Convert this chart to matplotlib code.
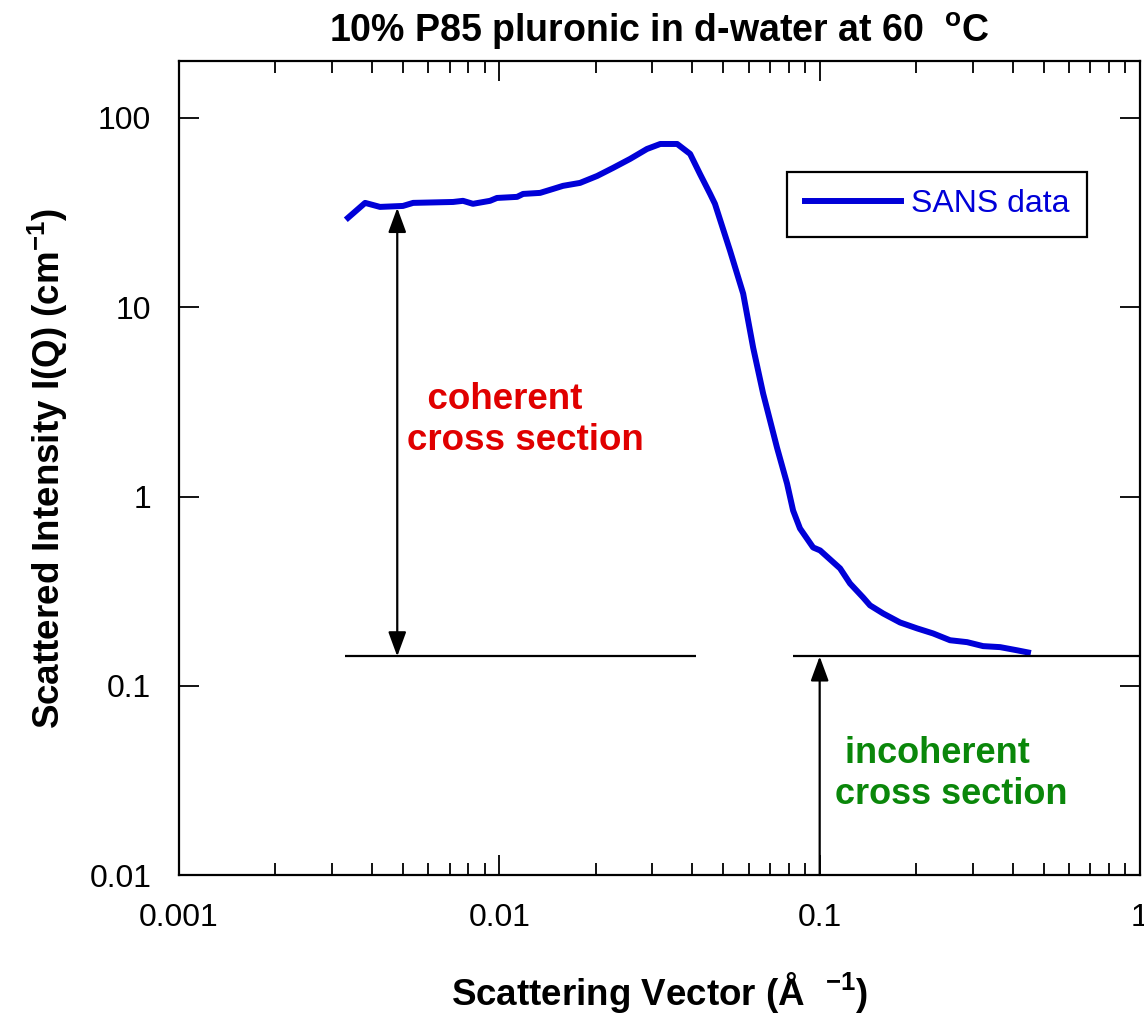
import numpy as np
import matplotlib.pyplot as plt
from matplotlib.ticker import LogLocator, FixedLocator, NullLocator

plt.rcParams['font.family'] = ['Liberation Sans', 'DejaVu Sans']
plt.rcParams['mathtext.fontset'] = 'custom'
plt.rcParams['mathtext.rm'] = 'Liberation Sans'
plt.rcParams['mathtext.bf'] = 'Liberation Sans:bold'

# SANS data
q = [0.00337, 0.00381, 0.00424, 0.00500, 0.00538, 0.00717, 0.00770, 0.00827,
     0.00935, 0.00983, 0.01136, 0.01186, 0.0134, 0.01472, 0.0158, 0.01786,
     0.0202, 0.02265, 0.0256, 0.0289, 0.0318, 0.0359, 0.0394, 0.0423, 0.0455,
     0.0471, 0.0525, 0.0577, 0.0620, 0.0666, 0.0736, 0.0791, 0.0826, 0.0868,
     0.0954, 0.1003, 0.1158, 0.1244, 0.1366, 0.1436, 0.1578, 0.1782, 0.2014,
     0.226, 0.2553, 0.2886, 0.3237, 0.366, 0.413, 0.447]
iq = [29.7, 35.6, 33.9, 34.3, 35.6, 36.0, 36.5, 35.2,
      36.5, 37.8, 38.3, 39.7, 40.2, 42.2, 43.8, 45.4,
      49.4, 54.5, 60.8, 68.6, 72.9, 72.9, 64.6, 50.6, 39.7,
      35.2, 19.9, 11.8, 6.11, 3.50, 1.81, 1.17, 0.844, 0.678,
      0.538, 0.519, 0.417, 0.347, 0.293, 0.266, 0.241, 0.216, 0.201,
      0.189, 0.174, 0.170, 0.162, 0.160, 0.154, 0.150]

background = 0.143
bg_left = (0.0033, 0.041)
bg_right = (0.0823, 1.0)
coh_q = 0.0048
coh_top = 33.5
incoh_q = 0.1

fig = plt.figure(figsize=(11.44, 10.17), dpi=100)
ax = fig.add_axes([0.1565, 0.1396, 0.84, 0.8004])

ax.plot(q, iq, color='#0000d8', lw=4.3, label='SANS data', solid_joinstyle='round')

ax.set_xscale('log')
ax.set_yscale('log')
ax.set_xlim(0.001, 1)
ax.set_ylim(0.01, 200)

ax.hlines(background, *bg_left, color='black', lw=1.6)
ax.hlines(background, *bg_right, color='black', lw=1.6)
ax.annotate('', xy=(coh_q, coh_top), xytext=(coh_q, background),
            arrowprops=dict(arrowstyle='<|-|>,head_length=1.5,head_width=0.55',
                            color='black', lw=1.6, shrinkA=0, shrinkB=0))
ax.annotate('', xy=(incoh_q, background), xytext=(incoh_q, 0.01),
            arrowprops=dict(arrowstyle='-|>,head_length=1.5,head_width=0.55',
                            color='black', lw=1.6, shrinkA=0, shrinkB=0))

ax.text(0.00515, 2.55, '  coherent\ncross section', color='#e00000',
        fontsize=26.5, fontweight='bold', ha='left', va='center', linespacing=1.22)
ax.text(0.1117, 0.034, ' incoherent\ncross section', color='#0a870a',
        fontsize=26, fontweight='bold', ha='left', va='center', linespacing=1.22)

ax.xaxis.set_major_locator(LogLocator(base=10, numticks=10))
ax.xaxis.set_minor_locator(LogLocator(base=10, subs=np.arange(2, 10), numticks=10))
ax.yaxis.set_major_locator(FixedLocator([0.01, 0.1, 1, 10, 100]))
ax.yaxis.set_minor_locator(NullLocator())
ax.set_xticks([0.001, 0.01, 0.1, 1])
ax.set_xticklabels(['0.001', '0.01', '0.1', '1'])
ax.set_yticks([0.01, 0.1, 1, 10, 100])
ax.set_yticklabels(['0.01', '0.1', '1', '10', '100'])

ax.tick_params(which='both', direction='in', top=True, right=True, width=1.3,
               labelsize=23, pad=20)
ax.tick_params(which='major', length=14.5)
ax.tick_params(which='minor', length=8.5)
for s in ax.spines.values():
    s.set_linewidth(1.6)

ax.set_title('10% P85 pluronic in d-water at 60  $^{\\mathbf{o}}$C',
             fontsize=27, fontweight='bold', pad=14)
ax.set_xlabel('Scattering Vector (Å  $^{\\mathbf{-1}}$)', fontsize=26.5,
              fontweight='bold', labelpad=27)
ax.set_ylabel('Scattered Intensity I(Q) (cm$^{\\mathbf{-1}}$)', fontsize=26.5,
              fontweight='bold', labelpad=14)

leg = ax.legend(loc='upper left', bbox_to_anchor=(0.633, 0.864), fontsize=23,
                frameon=True, fancybox=False, edgecolor='black', framealpha=1,
                borderaxespad=0, handlelength=3.0, handletextpad=0.33,
                borderpad=0.55, labelcolor='linecolor')
leg.get_frame().set_linewidth(1.6)

fig.savefig('out.png', dpi=100)
